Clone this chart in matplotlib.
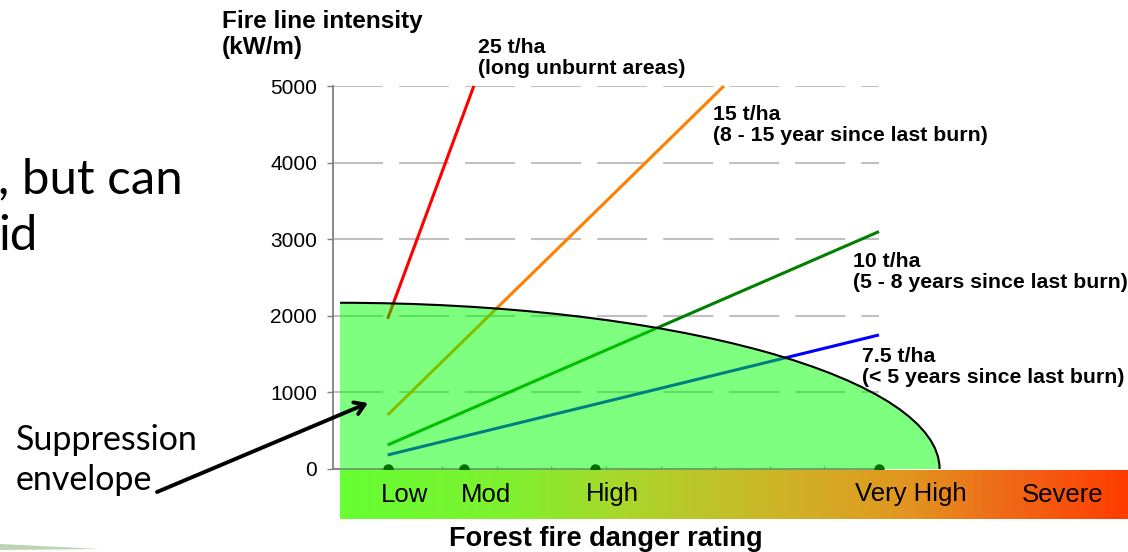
import numpy as np
import matplotlib
matplotlib.use('Agg')
import matplotlib.pyplot as plt
from matplotlib.patches import Ellipse, Arc, Rectangle, Polygon
from matplotlib.colors import LinearSegmentedColormap

plt.rcParams['font.family'] = ['Liberation Sans', 'DejaVu Sans']

# fire danger index (x) where each category sits
danger_names = ['Low', 'Mod', 'High', 'Very High', 'Severe']
danger_x = [5, 12, 24, 50]

# fuel load lines: start / end points (FFDI, kW/m)
fuel_labels = ['25 t/ha\n(long unburnt areas)',
               '15 t/ha\n(8 - 15 year since last burn)',
               '10 t/ha\n(5 - 8 years since last burn)',
               '7.5 t/ha\n(< 5 years since last burn)']
fuel_x = [[5, 12.9], [5, 35.8], [5, 50], [5, 50]]
fuel_y = [[1960, 5000], [705, 5000], [313, 3100], [183, 1750]]
fuel_colors = ['#ff0000', '#ff8000', '#008000', '#0000ff']

# suppression envelope (quarter ellipse)
env_start = 0.65
env_reach = 54.9
env_peak = 2170

y_ticks = [0, 1000, 2000, 3000, 4000, 5000]

W, H = 1128, 552
fig = plt.figure(figsize=(W / 100, H / 100), dpi=100)

ax = fig.add_axes([333 / W, (H - 469) / H, 546 / W, 383 / H])
ax.set_xlim(0, 50)
ax.set_ylim(0, 5000)
for s in ['top', 'right']:
    ax.spines[s].set_visible(False)
for s in ['left', 'bottom']:
    ax.spines[s].set_color('#808080')
    ax.spines[s].set_linewidth(1.3)
ax.set_yticks(y_ticks)
ax.tick_params(axis='y', direction='out', length=4.5, width=1, color='#808080', labelsize=15, pad=7)
ax.set_xticks(np.arange(0, 51, 5))
ax.tick_params(axis='x', direction='in', length=2.5, width=1, color='#808080', labelbottom=False)
ax.grid(axis='y', color='#c0c0c0', lw=1.5, linestyle=(0, (24, 7.7)))
ax.set_axisbelow(True)

for xs, ys, c in zip(fuel_x, fuel_y, fuel_colors):
    ax.plot(xs, ys, color=c, lw=2.2, solid_capstyle='butt', zorder=2, clip_on=False)

# envelope - see-through green over the lines
env = Ellipse((env_start, 0), 2 * env_reach, 2 * env_peak, facecolor=(0, 1, 0, 0.5),
              edgecolor='none', zorder=3)
ax.add_patch(env)
env.set_clip_path(Rectangle((env_start, 0), 100, 10000, transform=ax.transData))
edge = Arc((env_start, 0), 2 * env_reach, 2 * env_peak, theta1=0, theta2=90,
           color='black', lw=1.5, zorder=4, clip_on=False)
ax.add_patch(edge)

ax.plot(danger_x, [0] * len(danger_x), 'o', color='#006e00', ms=6.5, zorder=5, clip_on=False)

# gradient bar with danger ratings
bax = fig.add_axes([340 / W, (H - 519) / H, (W - 340) / W, 49 / H])
cmap = LinearSegmentedColormap.from_list('danger', [
    (0.0, '#66ff33'), (0.22, '#80f030'), (0.35, '#a8d82c'), (0.55, '#cdb628'),
    (0.72, '#e2961f'), (0.85, '#f06818'), (1.0, '#ff3c00')])
bax.imshow(np.linspace(0, 1, 256)[None, :], aspect='auto', cmap=cmap, extent=(0, 1, 0, 1))
bax.set_axis_off()
label_px = [405, 486, 612, 911, 1063]
for name, px in zip(danger_names, label_px):
    bax.text((px - 340) / (W - 340), 0.5, name, ha='center', va='center', fontsize=18.5)

fig.text(606 / W, 1 - 539 / H, 'Forest fire danger rating', ha='center', va='center',
         fontsize=19.5, fontweight='bold')
fig.text(222 / W, 1 - 10 / H, 'Fire line intensity\n(kW/m)', ha='left', va='top',
         fontsize=17.5, fontweight='bold', linespacing=1.15)

label_pos = [(478, 38), (713, 105), (853, 252), (862, 347)]
for lab, (px, py) in zip(fuel_labels, label_pos):
    fig.text(px / W, 1 - py / H, lab, ha='left', va='top', fontsize=15.3,
             fontweight='bold', linespacing=1.15)

# slide text around the chart
fig.text(-2 / W, 1 - 193 / H, ', but can', ha='left', va='baseline', fontsize=35.5, family='Lato')
fig.text(-2 / W, 1 - 250 / H, 'id', ha='left', va='baseline', fontsize=35.5, family='Lato')
fig.text(16 / W, 1 - 450 / H, 'Suppression', ha='left', va='baseline', fontsize=24.5, family='Lato')
fig.text(16 / W, 1 - 490 / H, 'envelope', ha='left', va='baseline', fontsize=24.5, family='Lato')
ax.annotate('', xy=(368 / W, 1 - 403 / H), xycoords='figure fraction',
            xytext=(157 / W, 1 - 492 / H), textcoords='figure fraction',
            arrowprops=dict(arrowstyle='->,head_length=0.7,head_width=0.45', lw=2.8,
                            color='black', shrinkA=0, shrinkB=0),
            annotation_clip=False)

fig.patches.append(Polygon([(0, 8 / H), (100 / W, 3 / H), (0, 2 / H)], closed=True,
                           transform=fig.transFigure, facecolor='#8fb87f', alpha=0.6,
                           edgecolor='none'))

fig.savefig('out.png', dpi=100)
